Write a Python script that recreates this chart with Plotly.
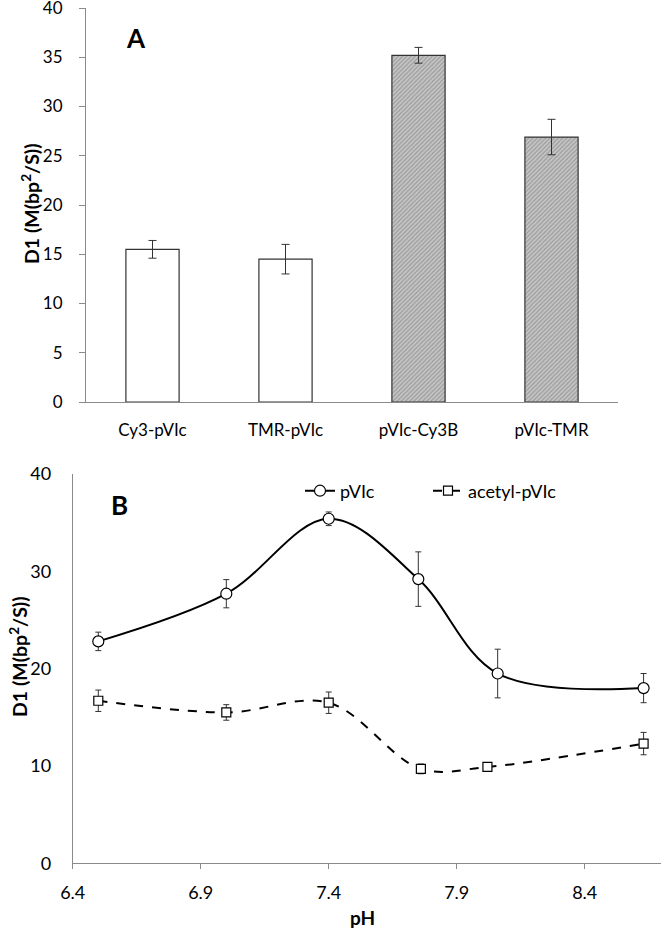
import plotly.graph_objects as go

# ---- Panel A data ----
bar_labels = ["Cy3-pVIc", "TMR-pVIc", "pVIc-Cy3B", "pVIc-TMR"]
bar_values = [15.5, 14.5, 35.2, 26.9]
bar_errors = [0.9, 1.5, 0.8, 1.8]
bar_fill = ["white", "white", "hatched", "hatched"]

# ---- Panel B data ----
ph_pvic = [6.5, 7.0, 7.4, 7.75, 8.06, 8.63]
d1_pvic = [22.8, 27.7, 35.4, 29.2, 19.5, 18.0]
err_pvic = [0.95, 1.45, 0.7, 2.8, 2.5, 1.5]

ph_acetyl = [6.5, 7.0, 7.4, 7.76, 8.02, 8.63]
d1_acetyl = [16.7, 15.5, 16.5, 9.7, 9.9, 12.3]
err_acetyl = [1.1, 0.8, 1.1, 0.5, 0.4, 1.15]

W, H = 661, 929
FONT = "Lato, 'Open Sans', Arial, sans-serif"

def px_x(p):
    return p / W

def px_y(p):
    return 1 - p / H

fig = go.Figure()

white_idx = [i for i, f in enumerate(bar_fill) if f == "white"]
hatch_idx = [i for i, f in enumerate(bar_fill) if f == "hatched"]

fig.add_trace(go.Bar(
    x=[bar_labels[i] for i in white_idx],
    y=[bar_values[i] for i in white_idx],
    error_y=dict(type="data", array=[bar_errors[i] for i in white_idx],
                 color="#333333", thickness=1, width=4),
    marker=dict(color="white", line=dict(color="#333333", width=1.2)),
    xaxis="x", yaxis="y", showlegend=False, width=0.4,
))
fig.add_trace(go.Bar(
    x=[bar_labels[i] for i in hatch_idx],
    y=[bar_values[i] for i in hatch_idx],
    error_y=dict(type="data", array=[bar_errors[i] for i in hatch_idx],
                 color="#333333", thickness=1, width=4),
    marker=dict(color="#bdbdbd", line=dict(color="#333333", width=1.2),
                pattern=dict(shape="/", fgcolor="#707070", bgcolor="#c6c6c6",
                             size=3, solidity=0.4)),
    xaxis="x", yaxis="y", showlegend=False, width=0.4,
))

fig.add_trace(go.Scatter(
    x=ph_pvic, y=d1_pvic, name="pVIc", mode="lines+markers",
    line=dict(color="black", width=2, shape="spline", smoothing=1.0),
    marker=dict(symbol="circle", size=11, color="white",
                line=dict(color="black", width=1.2)),
    error_y=dict(type="data", array=err_pvic, color="#333333", thickness=1, width=3),
    xaxis="x2", yaxis="y2",
))
fig.add_trace(go.Scatter(
    x=ph_acetyl, y=d1_acetyl, name="acetyl-pVIc", mode="lines+markers",
    line=dict(color="black", width=2, dash="dash", shape="spline", smoothing=1.0),
    marker=dict(symbol="square", size=9, color="white",
                line=dict(color="black", width=1.2)),
    error_y=dict(type="data", array=err_acetyl, color="#333333", thickness=1, width=3),
    xaxis="x2", yaxis="y2",
))

axis_line = "#8a8a8a"
tickfont_a = dict(family=FONT, size=17, color="black")
tickfont_b = dict(family=FONT, size=18, color="black")

def label(text, x, y, size, angle=0):
    return dict(text=text, x=px_x(x), y=px_y(y), xref="paper", yref="paper",
                xanchor="center", yanchor="middle", showarrow=False,
                textangle=angle, font=dict(family=FONT, size=size, color="black"))

fig.update_layout(
    width=W, height=H,
    margin=dict(l=0, r=0, t=0, b=0, autoexpand=False),
    paper_bgcolor="white", plot_bgcolor="white",
    font=dict(family=FONT, color="black"),
    bargap=0.6,
    xaxis=dict(domain=[px_x(86), px_x(618)], anchor="y", automargin=False,
               categoryorder="array", categoryarray=bar_labels,
               range=[-0.5, 3.5], showline=True, linecolor=axis_line, linewidth=1,
               ticks="", showgrid=False, zeroline=False,
               tickfont=tickfont_a, ticklabelstandoff=13),
    yaxis=dict(domain=[px_y(402), px_y(8)], anchor="x", automargin=False,
               range=[0, 40], tickvals=[0, 5, 10, 15, 20, 25, 30, 35, 40],
               showline=True, linecolor=axis_line, linewidth=1,
               ticks="outside", ticklen=6, tickcolor=axis_line,
               showgrid=False, zeroline=False, tickfont=tickfont_a,
               ticklabelstandoff=13, ticklabeloverflow="allow"),
    xaxis2=dict(domain=[px_x(72.7), 1.0], anchor="y2", automargin=False,
                range=[6.4, 8.698], tickvals=[6.4, 6.9, 7.4, 7.9, 8.4],
                ticktext=["6.4", "6.9", "7.4", "7.9", "8.4"],
                showline=True, linecolor=axis_line, linewidth=1,
                ticks="outside", ticklen=5, tickcolor=axis_line,
                showgrid=False, zeroline=False,
                tickfont=tickfont_b, ticklabelstandoff=8),
    yaxis2=dict(domain=[px_y(863.3), px_y(474)], anchor="x2", automargin=False,
                range=[0, 40], tickvals=[0, 10, 20, 30, 40],
                showline=True, linecolor=axis_line, linewidth=1,
                ticks="", showgrid=False, zeroline=False,
                tickfont=tickfont_b, ticklabelstandoff=17,
                ticklabeloverflow="allow"),
    legend=dict(orientation="h", x=px_x(300), y=px_y(491), xanchor="left",
                yanchor="middle", font=dict(family=FONT, size=18, color="black"),
                bgcolor="rgba(0,0,0,0)", itemwidth=30, entrywidth=83,
                entrywidthmode="pixels", tracegroupgap=0),
    annotations=[
        label("<b>A</b>", 136, 38, 26),
        label("<b>B</b>", 119, 505, 26),
        label("<b>D1 (M(bp<sup>2</sup>/S))</b>", 30, 204, 19.5, -90),
        label("<b>D1 (M(bp<sup>2</sup>/S))</b>", 18, 657, 19.5, -90),
        label("<b>pH</b>", 362, 917, 19),
    ],
)

fig.write_html("out.html", config={"displayModeBar": False},
               post_script="document.body.style.margin='0';document.body.style.overflow='hidden';")
